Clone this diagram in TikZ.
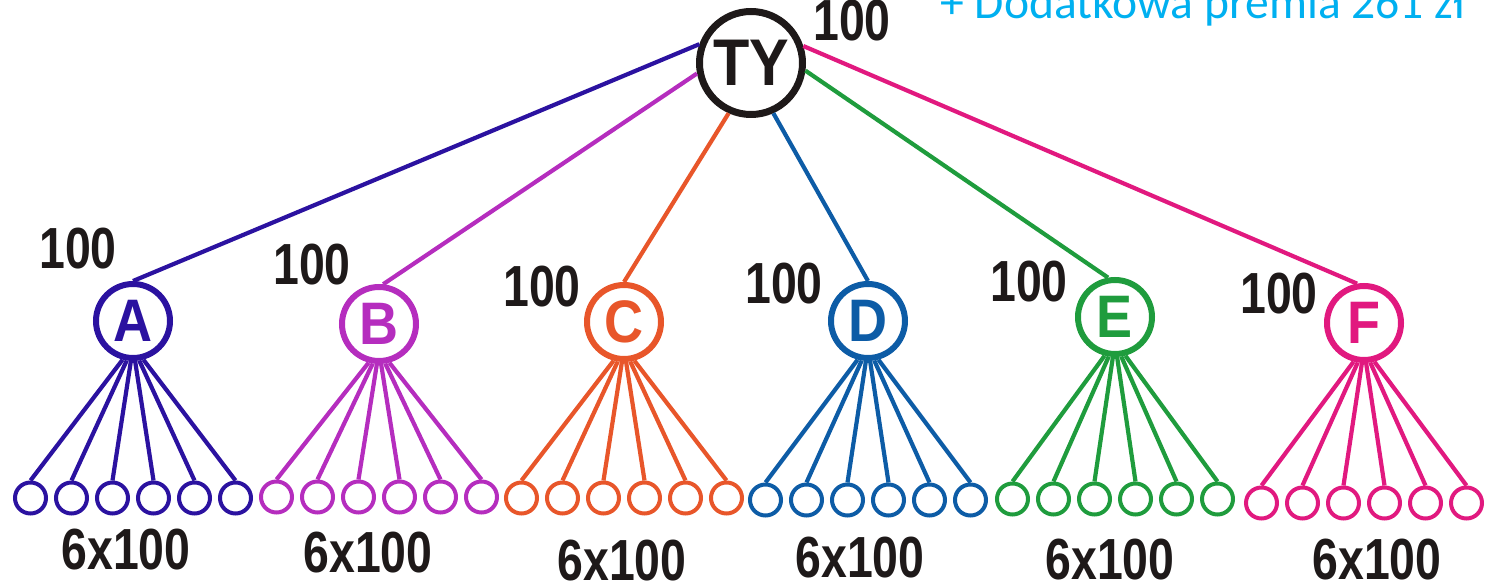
\documentclass[tikz,border=0pt]{standalone}
\usepackage{fontspec}
\newfontfamily\numfont{Liberation Sans}[FakeStretch=0.8]
\newfontfamily\letfont{Liberation Sans}[FakeStretch=0.9]
\newfontfamily\capfont{Carlito}
\definecolor{colTY}{RGB}{30,25,25}
\definecolor{colA}{RGB}{43,18,160}
\definecolor{colB}{RGB}{181,45,190}
\definecolor{colC}{RGB}{232,86,42}
\definecolor{colD}{RGB}{13,92,166}
\definecolor{colE}{RGB}{31,156,61}
\definecolor{colF}{RGB}{225,25,127}
\definecolor{colBonus}{RGB}{0,176,240}
\tikzset{
  topc/.style={circle, draw=colTY, line width=3.5pt, minimum size=51.5pt, inner sep=0pt,
    text=colTY, font=\letfont\bfseries\fontsize{33}{34}\selectfont},
  kid/.style={circle, draw=#1, line width=3pt, minimum size=37pt, inner sep=0pt,
    text=#1, font=\letfont\bfseries\fontsize{30}{31}\selectfont},
  leafc/.style={circle, draw=#1, line width=2pt, minimum size=15.5pt, inner sep=0pt},
  wire/.style={draw=#1, line width=2.1pt},
  amount/.style={text=colTY, inner sep=0pt, font=\numfont\bfseries\fontsize{29}{30}\selectfont},
}
\begin{document}
\begin{tikzpicture}[x=0.5pt, y=-0.5pt]
\useasboundingbox (0,0) rectangle (1485,587);
\node[topc] (ty) at (751,63){TY};
\node[amount] (ty100) at (852,21){100};
\node[anchor=base west, inner sep=0pt, text=colBonus, font=\capfont\fontsize{23.8}{25}\selectfont] (bonus) at (940,19){+ Dodatkowa premia 261 zł};

\node[kid=colA] (kidA) at (133,321){A};
\node[kid=colB] (kidB) at (379,324){B};
\node[kid=colC] (kidC) at (624,322){C};
\node[kid=colD] (kidD) at (868,321){D};
\node[kid=colE] (kidE) at (1115,317){E};
\node[kid=colF] (kidF) at (1364,323){F};
\draw[wire=colA](ty.160) -- (kidA.north);
\draw[wire=colB](ty.191) -- (kidB.84);
\draw[wire=colC](ty.246) -- (kidC.north);
\draw[wire=colD](ty.294) -- (kidD.north);
\draw[wire=colE](ty.-8) -- (kidE.100);
\draw[wire=colF](ty.18) -- (kidF.100);

\node[amount] (amtA) at (78,249){100};
\node[amount] (amtB) at (312,265){100};
\node[amount] (amtC) at (542,287){100};
\node[amount] (amtD) at (784,284){100};
\node[amount] (amtE) at (1029,282){100};
\node[amount] (amtF) at (1279,294){100};

\node[leafc=colA] (leafA1) at (30.5,498){};
\node[leafc=colA] (leafA2) at (71.5,498){};
\node[leafc=colA] (leafA3) at (112.5,498){};
\node[leafc=colA] (leafA4) at (153.5,498){};
\node[leafc=colA] (leafA5) at (194.5,498){};
\node[leafc=colA] (leafA6) at (235.5,498){};
\draw[wire=colA](kidA.255) -- (leafA1.north);
\draw[wire=colA](kidA.261) -- (leafA2.north);
\draw[wire=colA](kidA.267) -- (leafA3.north);
\draw[wire=colA](kidA.273) -- (leafA4.north);
\draw[wire=colA](kidA.279) -- (leafA5.north);
\draw[wire=colA](kidA.285) -- (leafA6.north);

\node[leafc=colB] (leafB1) at (276.5,497){};
\node[leafc=colB] (leafB2) at (317.5,497){};
\node[leafc=colB] (leafB3) at (358.5,497){};
\node[leafc=colB] (leafB4) at (399.5,497){};
\node[leafc=colB] (leafB5) at (440.5,497){};
\node[leafc=colB] (leafB6) at (481.5,497){};
\draw[wire=colB](kidB.255) -- (leafB1.north);
\draw[wire=colB](kidB.261) -- (leafB2.north);
\draw[wire=colB](kidB.267) -- (leafB3.north);
\draw[wire=colB](kidB.273) -- (leafB4.north);
\draw[wire=colB](kidB.279) -- (leafB5.north);
\draw[wire=colB](kidB.285) -- (leafB6.north);

\node[leafc=colC] (leafC1) at (521.5,498){};
\node[leafc=colC] (leafC2) at (562.5,498){};
\node[leafc=colC] (leafC3) at (603.5,498){};
\node[leafc=colC] (leafC4) at (644.5,498){};
\node[leafc=colC] (leafC5) at (685.5,498){};
\node[leafc=colC] (leafC6) at (726.5,498){};
\draw[wire=colC](kidC.255) -- (leafC1.north);
\draw[wire=colC](kidC.261) -- (leafC2.north);
\draw[wire=colC](kidC.267) -- (leafC3.north);
\draw[wire=colC](kidC.273) -- (leafC4.north);
\draw[wire=colC](kidC.279) -- (leafC5.north);
\draw[wire=colC](kidC.285) -- (leafC6.north);

\node[leafc=colD] (leafD1) at (765.5,500){};
\node[leafc=colD] (leafD2) at (806.5,500){};
\node[leafc=colD] (leafD3) at (847.5,500){};
\node[leafc=colD] (leafD4) at (888.5,500){};
\node[leafc=colD] (leafD5) at (929.5,500){};
\node[leafc=colD] (leafD6) at (970.5,500){};
\draw[wire=colD](kidD.255) -- (leafD1.north);
\draw[wire=colD](kidD.261) -- (leafD2.north);
\draw[wire=colD](kidD.267) -- (leafD3.north);
\draw[wire=colD](kidD.273) -- (leafD4.north);
\draw[wire=colD](kidD.279) -- (leafD5.north);
\draw[wire=colD](kidD.285) -- (leafD6.north);

\node[leafc=colE] (leafE1) at (1012.5,499){};
\node[leafc=colE] (leafE2) at (1053.5,499){};
\node[leafc=colE] (leafE3) at (1094.5,499){};
\node[leafc=colE] (leafE4) at (1135.5,499){};
\node[leafc=colE] (leafE5) at (1176.5,499){};
\node[leafc=colE] (leafE6) at (1217.5,499){};
\draw[wire=colE](kidE.255) -- (leafE1.north);
\draw[wire=colE](kidE.261) -- (leafE2.north);
\draw[wire=colE](kidE.267) -- (leafE3.north);
\draw[wire=colE](kidE.273) -- (leafE4.north);
\draw[wire=colE](kidE.279) -- (leafE5.north);
\draw[wire=colE](kidE.285) -- (leafE6.north);

\node[leafc=colF] (leafF1) at (1261.5,503){};
\node[leafc=colF] (leafF2) at (1302.5,503){};
\node[leafc=colF] (leafF3) at (1343.5,503){};
\node[leafc=colF] (leafF4) at (1384.5,503){};
\node[leafc=colF] (leafF5) at (1425.5,503){};
\node[leafc=colF] (leafF6) at (1466.5,503){};
\draw[wire=colF](kidF.255) -- (leafF1.north);
\draw[wire=colF](kidF.261) -- (leafF2.north);
\draw[wire=colF](kidF.267) -- (leafF3.north);
\draw[wire=colF](kidF.273) -- (leafF4.north);
\draw[wire=colF](kidF.279) -- (leafF5.north);
\draw[wire=colF](kidF.285) -- (leafF6.north);

\node[amount] (sumA) at (126,550){6x100};
\node[amount] (sumB) at (368,553){6x100};
\node[amount] (sumC) at (622,561){6x100};
\node[amount] (sumD) at (860,558){6x100};
\node[amount] (sumE) at (1110,560){6x100};
\node[amount] (sumF) at (1377,560){6x100};

\end{tikzpicture}
\end{document}
